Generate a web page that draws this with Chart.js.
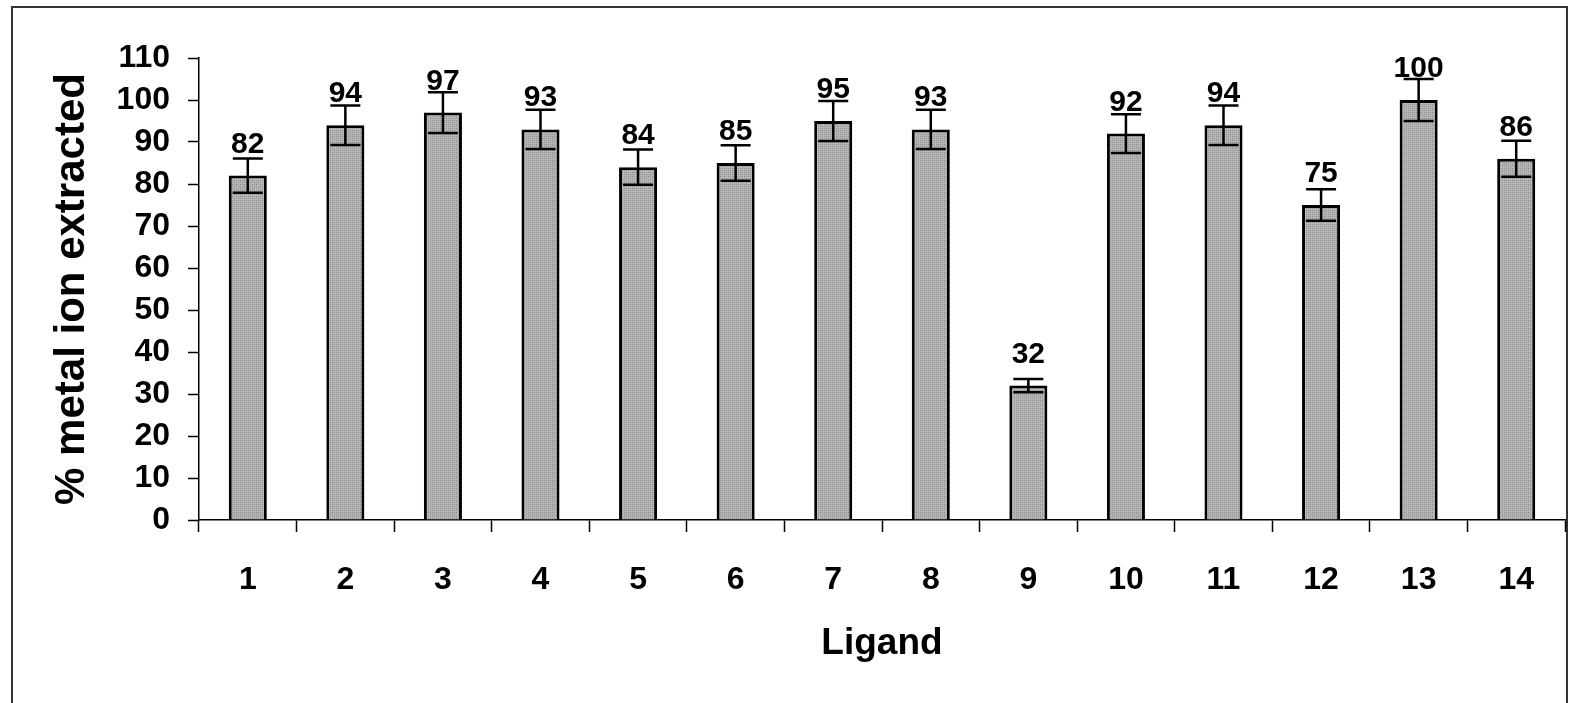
<!DOCTYPE html>
<html>
<head>
<meta charset="utf-8">
<script src="https://cdn.jsdelivr.net/npm/chart.js@4.4.0/dist/chart.umd.min.js"></script>
<style>
  html, body { margin: 0; padding: 0; background: #fff; }
  #wrap { width: 1569px; height: 703px; }
</style>
</head>
<body>
<div id="wrap"><canvas id="myChart"></canvas></div>
<script>
// values
const ligands = ['1', '2', '3', '4', '5', '6', '7', '8', '9', '10', '11', '12', '13', '14'];
const extracted = [82, 94, 97, 93, 84, 85, 95, 93, 32, 92, 94, 75, 100, 86];
const errors = [4.1, 4.7, 4.85, 4.65, 4.2, 4.25, 4.75, 4.65, 1.6, 4.6, 4.7, 3.75, 5, 4.3];
const yTicks = [0, 10, 20, 30, 40, 50, 60, 70, 80, 90, 100, 110];

const FONT = '"Liberation Sans", Arial, sans-serif';

// dotted grey fill like the old excel bars
function makePattern() {
	const c = document.createElement('canvas');
	c.width = 4; c.height = 4;
	const g = c.getContext('2d');
	g.fillStyle = '#b6b6b6';
	g.fillRect(0, 0, 4, 4);
	g.fillStyle = '#868686';
	g.fillRect(0, 0, 1, 1);
	g.fillRect(2, 2, 1, 1);
	g.fillStyle = '#9a9a9a';
	g.fillRect(2, 0, 1, 1);
	g.fillRect(0, 2, 1, 1);
	return g.createPattern(c, 'repeat');
}

const framePlugin = {
	id: 'frame',
	beforeDraw(chart) {
		const c = chart.ctx;
		c.save();
		c.fillStyle = '#fff';
		c.fillRect(0, 0, chart.width, chart.height);
		c.strokeStyle = '#333';
		c.lineWidth = 2;
		c.strokeRect(12, 7, 1555, 710);
		c.restore();
	}
};

const errorPlugin = {
	id: 'errorBars',
	afterDatasetsDraw(chart) {
		const c = chart.ctx;
		const meta = chart.getDatasetMeta(0);
		const y = chart.scales.y;
		c.save();
		c.strokeStyle = '#000';
		c.lineWidth = 2.5;
		meta.data.forEach((bar, i) => {
			const v = extracted[i];
			const top = y.getPixelForValue(v + errors[i]);
			const bot = y.getPixelForValue(v - errors[i]);
			const x = bar.x;
			c.beginPath();
			c.moveTo(x, top); c.lineTo(x, bot);
			c.moveTo(x - 15, top); c.lineTo(x + 15, top);
			c.moveTo(x - 15, bot); c.lineTo(x + 15, bot);
			c.stroke();
		});
		// value labels above bars
		c.fillStyle = '#000';
		c.font = 'bold 30px ' + FONT;
		c.textAlign = 'center';
		c.textBaseline = 'alphabetic';
		meta.data.forEach((bar, i) => {
			c.fillText(String(extracted[i]), bar.x, bar.y - 23);
		});
		c.restore();
	}
};

const ctx = document.getElementById('myChart');

let grafico = new Chart(ctx, {
	type: 'bar',
	data: {
		labels: ligands,
		datasets: [
			{
				data: extracted,
				backgroundColor: makePattern(),
				borderColor: '#000',
				borderWidth: 3,
				borderSkipped: 'bottom',
				barPercentage: 0.39,
				categoryPercentage: 1,
			},
		],
	},
	options: {
		responsive: true,
		maintainAspectRatio: false,
		animation: false,
		layout: { padding: { top: 58, right: 4, left: 0, bottom: 0 } },
		plugins: {
			legend: { display: false },
			tooltip: { enabled: false },
		},
		scales: {
			x: {
				offset: true,
				grid: {
					offset: true,
					drawOnChartArea: false,
					color: '#000',
					tickLength: 12,
					tickWidth: 1.5,
				},
				border: { color: '#000', width: 1.5 },
				ticks: {
					color: '#000',
					font: { family: FONT, size: 32, weight: 'bold' },
					padding: 29,
				},
				title: {
					display: true,
					text: 'Ligand',
					color: '#000',
					font: { family: FONT, size: 37, weight: 'bold' },
					padding: { top: 0, bottom: 37 },
				},
				afterFit(scale) { scale.height = 183; },
			},
			y: {
				min: 0,
				max: 110,
				afterBuildTicks(scale) {
					scale.ticks = yTicks.map(v => ({ value: v }));
				},
				grid: {
					drawOnChartArea: false,
					color: '#000',
					tickLength: 11,
					tickWidth: 1.5,
				},
				border: { color: '#000', width: 1.5 },
				ticks: {
					color: '#000',
					font: { family: FONT, size: 32, weight: 'bold' },
					padding: 18,
				},
				title: {
					display: true,
					text: '% metal ion extracted',
					color: '#000',
					font: { family: FONT, size: 42, weight: 'bold' },
					padding: { top: 47, bottom: 0 },
				},
				afterFit(scale) { scale.width = 199; },
			},
		},
	},
	plugins: [framePlugin, errorPlugin],
});
</script>
</body>
</html>
